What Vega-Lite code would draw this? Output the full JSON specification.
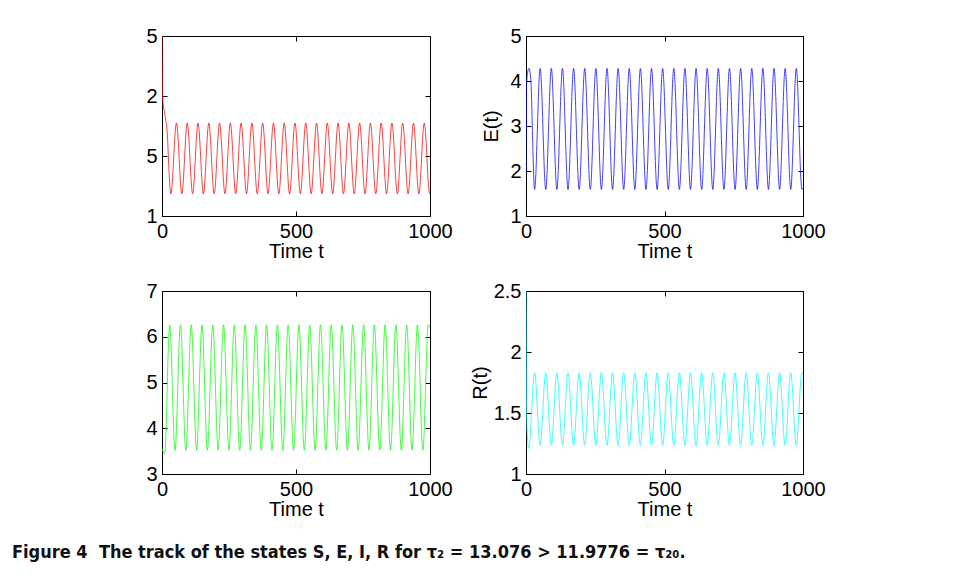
{
  "$schema": "https://vega.github.io/schema/vega-lite/v6.json",
  "background": "white",
  "padding": {"left": 12, "top": 25, "right": 5, "bottom": 5},
  "datasets": {
    "S": [
      {"t":0,"v":2.5},{"t":1,"v":2.2},{"t":2.5,"v":1.98},{"t":8,"v":1.88},{"t":14,"v":1.8},{"t":20,"v":1.68},{"t":26,"v":1.38},{"t":33,"v":1.185},
      {"t":54,"v":1.775},{"t":74.1,"v":1.185},{"t":94.2,"v":1.775},{"t":114.3,"v":1.185},{"t":134.4,"v":1.775},{"t":154.5,"v":1.185},{"t":174.6,"v":1.775},{"t":194.7,"v":1.185},
      {"t":214.8,"v":1.775},{"t":234.9,"v":1.185},{"t":255,"v":1.775},{"t":275.1,"v":1.185},{"t":295.2,"v":1.775},{"t":315.3,"v":1.185},{"t":335.4,"v":1.775},{"t":355.5,"v":1.185},
      {"t":375.6,"v":1.775},{"t":395.7,"v":1.185},{"t":415.8,"v":1.775},{"t":435.9,"v":1.185},{"t":456,"v":1.775},{"t":476.1,"v":1.185},{"t":496.2,"v":1.775},{"t":516.3,"v":1.185},
      {"t":536.4,"v":1.775},{"t":556.5,"v":1.185},{"t":576.6,"v":1.775},{"t":596.7,"v":1.185},{"t":616.8,"v":1.775},{"t":636.9,"v":1.185},{"t":657,"v":1.775},{"t":677.1,"v":1.185},
      {"t":697.2,"v":1.775},{"t":717.3,"v":1.185},{"t":737.4,"v":1.775},{"t":757.5,"v":1.185},{"t":777.6,"v":1.775},{"t":797.7,"v":1.185},{"t":817.8,"v":1.775},{"t":837.9,"v":1.185},
      {"t":858,"v":1.775},{"t":878.1,"v":1.185},{"t":898.2,"v":1.775},{"t":918.3,"v":1.185},{"t":938.4,"v":1.775},{"t":958.5,"v":1.185},{"t":978.6,"v":1.775},{"t":998.7,"v":1.185},
      {"t":1000,"v":1.19}
    ],
    "E": [
      {"t":0,"v":2.0},{"t":2,"v":3.9},{"t":6,"v":4.2},{"t":11,"v":4.28},{"t":17,"v":4.05},{"t":31.1,"v":1.59},
      {"t":51.2,"v":4.28},{"t":71.3,"v":1.59},{"t":91.4,"v":4.28},{"t":111.5,"v":1.59},{"t":131.6,"v":4.28},{"t":151.7,"v":1.59},{"t":171.8,"v":4.28},{"t":191.9,"v":1.59},
      {"t":212,"v":4.28},{"t":232.1,"v":1.59},{"t":252.2,"v":4.28},{"t":272.3,"v":1.59},{"t":292.4,"v":4.28},{"t":312.5,"v":1.59},{"t":332.6,"v":4.28},{"t":352.7,"v":1.59},
      {"t":372.8,"v":4.28},{"t":392.9,"v":1.59},{"t":413,"v":4.28},{"t":433.1,"v":1.59},{"t":453.2,"v":4.28},{"t":473.3,"v":1.59},{"t":493.4,"v":4.28},{"t":513.5,"v":1.59},
      {"t":533.6,"v":4.28},{"t":553.7,"v":1.59},{"t":573.8,"v":4.28},{"t":593.9,"v":1.59},{"t":614,"v":4.28},{"t":634.1,"v":1.59},{"t":654.2,"v":4.28},{"t":674.3,"v":1.59},
      {"t":694.4,"v":4.28},{"t":714.5,"v":1.59},{"t":734.6,"v":4.28},{"t":754.7,"v":1.59},{"t":774.8,"v":4.28},{"t":794.9,"v":1.59},{"t":815,"v":4.28},{"t":835.1,"v":1.59},
      {"t":855.2,"v":4.28},{"t":875.3,"v":1.59},{"t":895.4,"v":4.28},{"t":915.5,"v":1.59},{"t":935.6,"v":4.28},{"t":955.7,"v":1.59},{"t":975.8,"v":4.28},{"t":995.9,"v":1.59},
      {"t":1000,"v":1.62}
    ],
    "I": [
      {"t":0,"v":3.56},{"t":10,"v":3.44},
      {"t":28.6,"v":6.26},{"t":48.7,"v":3.52},{"t":68.8,"v":6.26},{"t":88.9,"v":3.52},{"t":109,"v":6.26},{"t":129.1,"v":3.52},{"t":149.2,"v":6.26},{"t":169.3,"v":3.52},
      {"t":189.4,"v":6.26},{"t":209.5,"v":3.52},{"t":229.6,"v":6.26},{"t":249.7,"v":3.52},{"t":269.8,"v":6.26},{"t":289.9,"v":3.52},{"t":310,"v":6.26},{"t":330.1,"v":3.52},
      {"t":350.2,"v":6.26},{"t":370.3,"v":3.52},{"t":390.4,"v":6.26},{"t":410.5,"v":3.52},{"t":430.6,"v":6.26},{"t":450.7,"v":3.52},{"t":470.8,"v":6.26},{"t":490.9,"v":3.52},
      {"t":511,"v":6.26},{"t":531.1,"v":3.52},{"t":551.2,"v":6.26},{"t":571.3,"v":3.52},{"t":591.4,"v":6.26},{"t":611.5,"v":3.52},{"t":631.6,"v":6.26},{"t":651.7,"v":3.52},
      {"t":671.8,"v":6.26},{"t":691.9,"v":3.52},{"t":712,"v":6.26},{"t":732.1,"v":3.52},{"t":752.2,"v":6.26},{"t":772.3,"v":3.52},{"t":792.4,"v":6.26},{"t":812.5,"v":3.52},
      {"t":832.6,"v":6.26},{"t":852.7,"v":3.52},{"t":872.8,"v":6.26},{"t":892.9,"v":3.52},{"t":913,"v":6.26},{"t":933.1,"v":3.52},{"t":953.2,"v":6.26},{"t":973.3,"v":3.52},
      {"t":993.4,"v":6.26},{"t":1000,"v":6.2}
    ],
    "R": [
      {"t":0,"v":2.5},{"t":1,"v":1.9},{"t":3,"v":1.42},{"t":9.6,"v":1.21},
      {"t":31,"v":1.83},{"t":51.1,"v":1.235},{"t":71.2,"v":1.83},{"t":91.3,"v":1.235},{"t":111.4,"v":1.83},{"t":131.5,"v":1.235},{"t":151.6,"v":1.83},{"t":171.7,"v":1.235},
      {"t":191.8,"v":1.83},{"t":211.9,"v":1.235},{"t":232,"v":1.83},{"t":252.1,"v":1.235},{"t":272.2,"v":1.83},{"t":292.3,"v":1.235},{"t":312.4,"v":1.83},{"t":332.5,"v":1.235},
      {"t":352.6,"v":1.83},{"t":372.7,"v":1.235},{"t":392.8,"v":1.83},{"t":412.9,"v":1.235},{"t":433,"v":1.83},{"t":453.1,"v":1.235},{"t":473.2,"v":1.83},{"t":493.3,"v":1.235},
      {"t":513.4,"v":1.83},{"t":533.5,"v":1.235},{"t":553.6,"v":1.83},{"t":573.7,"v":1.235},{"t":593.8,"v":1.83},{"t":613.9,"v":1.235},{"t":634,"v":1.83},{"t":654.1,"v":1.235},
      {"t":674.2,"v":1.83},{"t":694.3,"v":1.235},{"t":714.4,"v":1.83},{"t":734.5,"v":1.235},{"t":754.6,"v":1.83},{"t":774.7,"v":1.235},{"t":794.8,"v":1.83},{"t":814.9,"v":1.235},
      {"t":835,"v":1.83},{"t":855.1,"v":1.235},{"t":875.2,"v":1.83},{"t":895.3,"v":1.235},{"t":915.4,"v":1.83},{"t":935.5,"v":1.235},{"t":955.6,"v":1.83},{"t":975.7,"v":1.235},
      {"t":995.8,"v":1.83},{"t":1000,"v":1.82}
    ]
  },
  "title": {
    "text": "Figure 4\u00a0 The track of the states S, E, I, R for τ₂ = 13.076 > 11.9776 = τ₂₀.",
    "orient": "bottom",
    "anchor": "start",
    "frame": "group",
    "dx": -150,
    "offset": 24,
    "font": "Liberation Sans Narrow, DejaVu Sans Condensed, Open Sans",
    "fontSize": 18,
    "fontWeight": "bold",
    "color": "#111"
  },
  "columns": 2,
  "bounds": "flush",
  "spacing": {"row": 75, "column": 96},
  "concat": [
    {
      "width": 268, "height": 180,
      "data": {"name": "S"},
      "layer": [
        {"mark": {"type": "line", "color": "#ff0000", "strokeWidth": 0.75, "interpolate": "monotone", "clip": true},
         "encoding": {
           "x": {"field": "t", "type": "quantitative", "scale": {"domain": [0, 1000], "nice": false, "zero": false}, "axis": {"values": [0, 500, 1000], "title": "Time t", "format": "d"}},
           "y": {"field": "v", "type": "quantitative", "scale": {"domain": [1, 2.5], "nice": false, "zero": false}, "axis": {"values": [1, 1.5, 2, 2.5], "title": null, "labelExpr": "datum.value == 2.5 || datum.value == 1.5 ? '5' : format(datum.value, 'd')"}}
         }},
        {"mark": {"type": "line", "opacity": 0},
         "encoding": {
           "x": {"field": "t", "type": "quantitative", "axis": {"orient": "top", "values": [0, 500, 1000], "labels": false, "title": null, "domain": false}},
           "y": {"field": "v", "type": "quantitative", "axis": {"orient": "right", "values": [1, 1.5, 2, 2.5], "labels": false, "title": null, "domain": false}}
         }}
      ],
      "resolve": {"axis": {"x": "independent", "y": "independent"}}
    },
    {
      "width": 277, "height": 180,
      "data": {"name": "E"},
      "layer": [
        {"mark": {"type": "line", "color": "#0000ff", "strokeWidth": 0.75, "interpolate": "monotone", "clip": true},
         "encoding": {
           "x": {"field": "t", "type": "quantitative", "scale": {"domain": [0, 1000], "nice": false, "zero": false}, "axis": {"values": [0, 500, 1000], "title": "Time t", "format": "d"}},
           "y": {"field": "v", "type": "quantitative", "scale": {"domain": [1, 5], "nice": false, "zero": false}, "axis": {"values": [1, 2, 3, 4, 5], "title": "E(t)", "format": "d", "titlePadding": 8}}
         }},
        {"mark": {"type": "line", "opacity": 0},
         "encoding": {
           "x": {"field": "t", "type": "quantitative", "axis": {"orient": "top", "values": [0, 500, 1000], "labels": false, "title": null, "domain": false}},
           "y": {"field": "v", "type": "quantitative", "axis": {"orient": "right", "values": [1, 2, 3, 4, 5], "labels": false, "title": null, "domain": false}}
         }}
      ],
      "resolve": {"axis": {"x": "independent", "y": "independent"}}
    },
    {
      "width": 268, "height": 183,
      "data": {"name": "I"},
      "layer": [
        {"mark": {"type": "line", "color": "#00ff00", "strokeWidth": 0.75, "interpolate": "monotone", "clip": true},
         "encoding": {
           "x": {"field": "t", "type": "quantitative", "scale": {"domain": [0, 1000], "nice": false, "zero": false}, "axis": {"values": [0, 500, 1000], "title": "Time t", "format": "d"}},
           "y": {"field": "v", "type": "quantitative", "scale": {"domain": [3, 7], "nice": false, "zero": false}, "axis": {"values": [3, 4, 5, 6, 7], "title": null, "format": "d"}}
         }},
        {"mark": {"type": "line", "opacity": 0},
         "encoding": {
           "x": {"field": "t", "type": "quantitative", "axis": {"orient": "top", "values": [0, 500, 1000], "labels": false, "title": null, "domain": false}},
           "y": {"field": "v", "type": "quantitative", "axis": {"orient": "right", "values": [3, 4, 5, 6, 7], "labels": false, "title": null, "domain": false}}
         }}
      ],
      "resolve": {"axis": {"x": "independent", "y": "independent"}}
    },
    {
      "width": 277, "height": 183,
      "data": {"name": "R"},
      "layer": [
        {"mark": {"type": "line", "color": "#00ffff", "strokeWidth": 0.75, "interpolate": "monotone", "clip": true},
         "encoding": {
           "x": {"field": "t", "type": "quantitative", "scale": {"domain": [0, 1000], "nice": false, "zero": false}, "axis": {"values": [0, 500, 1000], "title": "Time t", "format": "d"}},
           "y": {"field": "v", "type": "quantitative", "scale": {"domain": [1, 2.5], "nice": false, "zero": false}, "axis": {"values": [1, 1.5, 2, 2.5], "title": "R(t)", "format": "~g", "titlePadding": 3}}
         }},
        {"mark": {"type": "line", "opacity": 0},
         "encoding": {
           "x": {"field": "t", "type": "quantitative", "axis": {"orient": "top", "values": [0, 500, 1000], "labels": false, "title": null, "domain": false}},
           "y": {"field": "v", "type": "quantitative", "axis": {"orient": "right", "values": [1, 1.5, 2, 2.5], "labels": false, "title": null, "domain": false}}
         }}
      ],
      "resolve": {"axis": {"x": "independent", "y": "independent"}}
    }
  ],
  "config": {
    "font": "Liberation Sans",
    "view": {"stroke": "#000", "strokeWidth": 1},
    "axis": {
      "grid": false,
      "tickSize": -5,
      "tickColor": "#000",
      "domainColor": "#000",
      "labelFont": "Liberation Sans",
      "titleFont": "Liberation Sans",
      "labelFontSize": 20,
      "titleFontSize": 20,
      "titleFontWeight": "normal",
      "labelColor": "#000",
      "titleColor": "#000",
      "labelFlush": false,
      "labelOverlap": false
    },
    "axisX": {"labelPadding": 10, "titlePadding": 0},
    "axisY": {"labelPadding": 10}
  }
}
